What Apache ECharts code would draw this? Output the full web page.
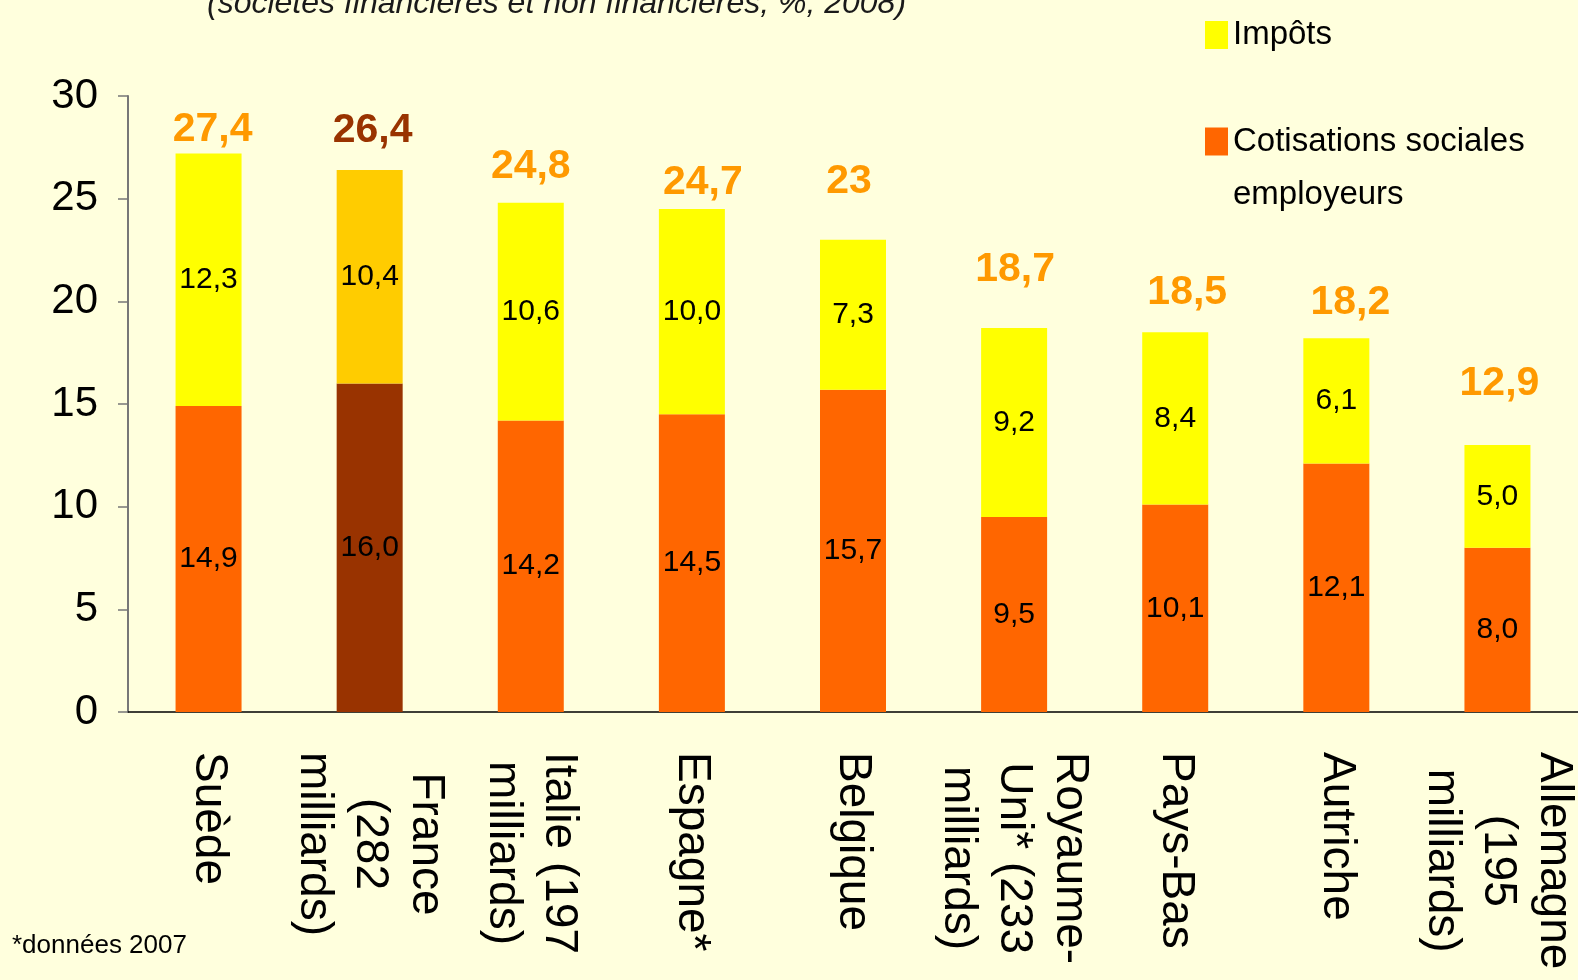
<!DOCTYPE html>
<html>
<head>
<meta charset="utf-8">
<script src="https://cdn.jsdelivr.net/npm/echarts@6/dist/echarts.min.js"></script>
<style>
  html, body { margin: 0; padding: 0; background: #FFFFDD; }
  #chart { width: 1578px; height: 980px; }
</style>
</head>
<body>
<div id="chart"></div>
<script>
var categories = ['Suède', 'France\n(282\nmilliards)', 'Italie (197\nmilliards)', 'Espagne*', 'Belgique',
	'Royaume-\nUni* (233\nmilliards)', 'Pays-Bas', 'Autriche', 'Allemagne\n(195\nmilliards)'];
var cotisations = [14.9, 16.0, 14.2, 14.5, 15.7, 9.5, 10.1, 12.1, 8.0];
var impots = [12.3, 10.4, 10.6, 10.0, 7.3, 9.2, 8.4, 6.1, 5.0];
var totalLabels = ['27,4', '26,4', '24,8', '24,7', '23', '18,7', '18,5', '18,2', '12,9'];

var SANS = "'Liberation Sans', Arial, sans-serif";

// hand placed total labels: gap above the bar and small horizontal shift
var labelGap = [10, 26, 23, 13, 45, 45, 26, 22, 48];
var labelShift = [4, 3, 0, 11, -4, 1, 12, 14, 2];

function fmt(v){
	return v.toFixed(1).replace('.', ',');
}

var chart = echarts.init(document.getElementById('chart'));

var option = {
	backgroundColor: '#FFFFDD',
	animation: false,
	grid: { left: 128, right: -17, top: 96, bottom: 268 },
	legend: [{
		data: ['Impôts'],
		left: 1205, top: 15, padding: 0,
		orient: 'vertical',
		icon: 'rect', itemWidth: 23, itemHeight: 28,
		textStyle: { fontFamily: SANS, fontSize: 33, lineHeight: 40, color: '#000' }
	}, {
		data: ['Cotisations sociales employeurs'],
		left: 1205, top: 62, padding: 0,
		orient: 'vertical',
		icon: 'rect', itemWidth: 23, itemHeight: 28,
		// empty first line so that the icon sits beside the first real line
		formatter: function(){ return ' \nCotisations sociales\nemployeurs'; },
		textStyle: { fontFamily: SANS, fontSize: 33, lineHeight: 53, color: '#000' }
	}],
	graphic: [{
		type: 'text', left: 207, top: -12,
		style: { text: '(sociétés financières et non financières, %, 2008)', font: 'italic 32px ' + SANS, fill: '#1a1a1a' }
	}, {
		type: 'text', left: 12, top: 933,
		style: { text: '*données 2007', font: '26px ' + SANS, fill: '#000' }
	}],
	xAxis: {
		type: 'category',
		data: categories,
		axisLine: { lineStyle: { color: '#000', width: 1.5 } },
		axisTick: { length: 13, lineStyle: { color: '#666', width: 1.5 } },
		axisLabel: {
			interval: 0,
			rotate: -90,
			margin: 40,
			formatter: function(v){
				return v.split('\n').map(function(s){ return '{c|' + s + '}'; }).join('\n');
			},
			rich: {
				c: { fontFamily: SANS, fontSize: 46, lineHeight: 56, color: '#000', align: 'center' }
			}
		}
	},
	yAxis: {
		type: 'value',
		min: 0, max: 30, interval: 5,
		axisLine: { show: true, lineStyle: { color: '#777', width: 2 } },
		axisTick: { show: true, length: 10, lineStyle: { color: '#777', width: 1.5 } },
		splitLine: { show: false },
		axisLabel: { fontFamily: SANS, fontSize: 42, color: '#000', margin: 30 }
	},
	series: [{
		name: 'Cotisations sociales employeurs',
		type: 'bar',
		stack: 'total',
		barWidth: 66,
		itemStyle: { color: '#FF6600' },
		data: cotisations.map(function(v, i){
			return i === 1 ? { value: v, itemStyle: { color: '#993300' } } : v;
		}),
		label: {
			show: true, position: 'inside',
			formatter: function(p){ return fmt(p.value); },
			fontFamily: SANS, fontSize: 30, color: '#000'
		}
	}, {
		name: 'Impôts',
		type: 'bar',
		stack: 'total',
		barWidth: 66,
		itemStyle: { color: '#FFFF00' },
		data: impots.map(function(v, i){
			return i === 1 ? { value: v, itemStyle: { color: '#FFCC00' } } : v;
		}),
		label: {
			show: true, position: 'inside',
			formatter: function(p){ return fmt(p.value); },
			fontFamily: SANS, fontSize: 30, color: '#000'
		}
	}, {
		name: 'Total',
		type: 'bar',
		stack: 'total',
		barWidth: 66,
		data: totalLabels.map(function(t, i){
			return {
				value: 0,
				label: {
					show: true, position: 'top', distance: 0,
					offset: [labelShift[i], -(labelGap[i] - 7)],
					formatter: t,
					color: i === 1 ? '#993300' : '#FF9900'
				}
			};
		}),
		label: { fontFamily: SANS, fontSize: 41, fontWeight: 'bold', lineHeight: 41 }
	}]
};

chart.setOption(option);
</script>
</body>
</html>
